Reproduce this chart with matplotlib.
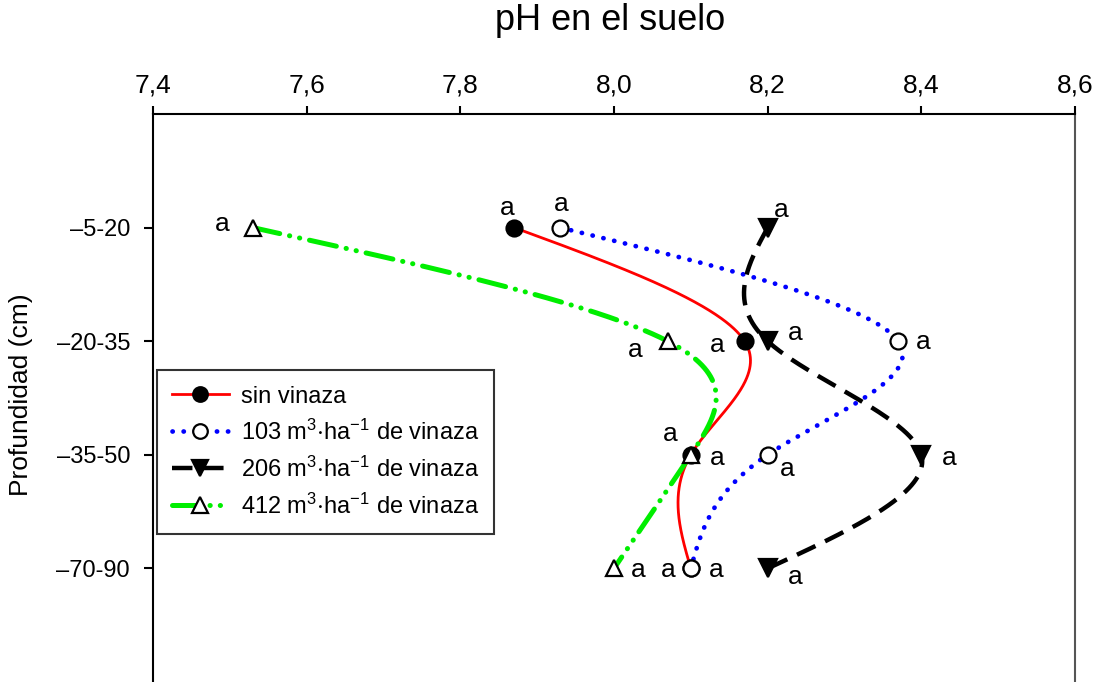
import numpy as np
import matplotlib
matplotlib.use("Agg")
import matplotlib.pyplot as plt
from matplotlib.lines import Line2D

# ---- data ----
depths = ["\u20135-20", "\u201320-35", "\u201335-50", "\u201370-90"]
xticks = [7.4, 7.6, 7.8, 8.0, 8.2, 8.4, 8.6]
xtick_labels = ["7,4", "7,6", "7,8", "8,0", "8,2", "8,4", "8,6"]

sin_vinaza = [7.87, 8.17, 8.10, 8.10]
v103 = [7.93, 8.37, 8.20, 8.10]
v206 = [8.20, 8.20, 8.40, 8.20]
v412 = [7.53, 8.07, 8.10, 8.00]

letters_sin = ["a", "a", "a", "a"]
letters_103 = ["a", "a", "a", "a"]
letters_206 = ["a", "a", "a", "a"]
letters_412 = ["a", "a", "a", "a"]

series_names = ["sin vinaza",
                r"103 m$^{3}$$\cdot$ha$^{-1}$ de vinaza",
                r"206 m$^{3}$$\cdot$ha$^{-1}$ de vinaza",
                r"412 m$^{3}$$\cdot$ha$^{-1}$ de vinaza"]

plt.rcParams['font.family'] = ['Liberation Sans', 'DejaVu Sans']
plt.rcParams['mathtext.fontset'] = 'custom'
plt.rcParams['mathtext.rm'] = 'Liberation Sans'
plt.rcParams['mathtext.it'] = 'Liberation Sans'
plt.rcParams['mathtext.default'] = 'regular'


def natural_spline(yk, xk, n=200):
    yk = np.asarray(yk, float)
    xk = np.asarray(xk, float)
    m = len(xk)
    h = np.diff(yk)
    A = np.zeros((m, m))
    b = np.zeros(m)
    A[0, 0] = 1
    A[-1, -1] = 1
    for i in range(1, m - 1):
        A[i, i - 1] = h[i - 1]
        A[i, i] = 2 * (h[i - 1] + h[i])
        A[i, i + 1] = h[i]
        b[i] = 6 * ((xk[i + 1] - xk[i]) / h[i] - (xk[i] - xk[i - 1]) / h[i - 1])
    M = np.linalg.solve(A, b)
    ys, xs = [], []
    for i in range(m - 1):
        t = np.linspace(0, 1, n)
        hi = h[i]
        y = yk[i] + t * hi
        x = ((1 - t) * xk[i] + t * xk[i + 1]
             + hi ** 2 / 6 * (((1 - t) ** 3 - (1 - t)) * M[i] + (t ** 3 - t) * M[i + 1]))
        ys.append(y)
        xs.append(x)
    return np.concatenate(xs), np.concatenate(ys)


fig = plt.figure(figsize=(11.03, 6.82), dpi=100)
ax = fig.add_axes([153 / 1103, 0.0, 922 / 1103, 568 / 682])

ypos = np.arange(1, len(depths) + 1)

styles = [
    dict(color="#ff0000", lw=2.0, ls="-", marker="o", mfc="black", mec="black", ms=11.5),
    dict(color="#0000ff", lw=3.4, ls=(0, (0.05, 2.3)), marker="o", mfc="white", mec="black", ms=11.5),
    dict(color="black", lw=3.2, ls=(0, (4.6, 2.4)), marker="v", mfc="black", mec="black", ms=12.5),
    dict(color="#00ee00", lw=3.6, ls=(0, (5.5, 2.0, 0.05, 2.0, 0.05, 2.0)), marker="^", mfc="white", mec="black", ms=12),
]
caps = ["round", "round", "butt", "round"]
all_values = [sin_vinaza, v103, v206, v412]
all_letters = [letters_sin, letters_103, letters_206, letters_412]
# label offsets in pixels (dx right, dy down)
offsets = [
    [(-7, -20), (-27, 4), (26, 3), (-23, 2)],
    [(1, -24), (25, 1), (20, 14), (25, 2)],
    [(14, -18), (28, -8), (28, 3), (28, 9)],
    [(-31, -4), (-33, 9), (-21, -21), (24, 2)],
]

handles = []
for vals, st, cap, letters, offs, name in zip(all_values, styles, caps, all_letters, offsets, series_names):
    xs, ys = natural_spline(ypos, vals)
    ln, = ax.plot(xs, ys, color=st["color"], lw=st["lw"], ls=st["ls"],
                  dash_capstyle=cap, solid_capstyle="butt", zorder=2)
    ax.plot(vals, ypos, ls="none", marker=st["marker"], mfc=st["mfc"], mec=st["mec"],
            ms=st["ms"], mew=1.6, zorder=4)
    for v, yp, lab, (dx, dy) in zip(vals, ypos, letters, offs):
        ax.annotate(lab, xy=(v, yp), xytext=(dx, -dy), textcoords="offset pixels",
                    ha="center", va="center", fontsize=19, zorder=5)
    h = Line2D([], [], color=st["color"], lw=st["lw"], ls=st["ls"], dash_capstyle=cap,
               marker=st["marker"], mfc=st["mfc"], mec=st["mec"], ms=st["ms"] - 1, mew=1.6)
    handles.append(h)

ax.set_xlim(7.4, 8.6)
ax.set_ylim(5, 0)
ax.xaxis.tick_top()
ax.set_xticks(xticks)
ax.set_xticklabels(xtick_labels, family=['Liberation Sans Narrow', 'Liberation Sans'], fontsize=19)
ax.set_yticks(ypos)
ax.set_yticklabels(depths, fontsize=17)
ax.tick_params(axis="x", direction="out", length=6, width=1.5, pad=6, top=True, bottom=False)
ax.tick_params(axis="y", direction="out", length=6.5, width=1.5, pad=10)

for s in ["left", "top", "right"]:
    ax.spines[s].set_linewidth(1.5)
ax.spines["right"].set_color("#555555")
ax.spines["bottom"].set_visible(False)

ax.set_ylabel("Profundidad (cm)", fontsize=19)
ax.yaxis.set_label_coords(-0.130, 0.505)

ax.text(0.496, 1.165, "pH en el suelo", transform=ax.transAxes, ha="center", va="center", fontsize=26)

leg = ax.legend(handles, series_names, loc="upper left", bbox_to_anchor=(0.004, 0.549),
                fontsize=17, frameon=True, fancybox=False, edgecolor="black",
                handlelength=2.4, handletextpad=0.5, labelspacing=0.5, borderpad=0.65,
                borderaxespad=0)
leg.get_frame().set_linewidth(1.5)

fig.savefig("out.png", dpi=100)
